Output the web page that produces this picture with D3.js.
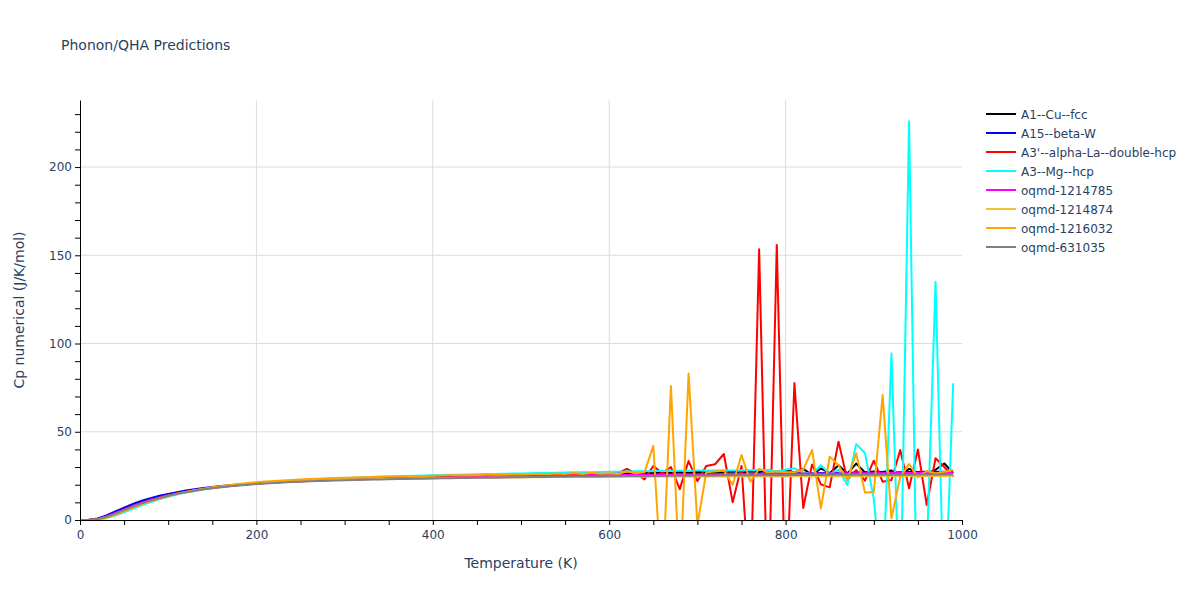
<!DOCTYPE html>
<html>
<head>
<meta charset="utf-8">
<script src="https://cdn.jsdelivr.net/npm/d3@7"></script>
<style>
  body { margin: 0; background: #fff; }
  svg { font-family: Verdana, "DejaVu Sans", sans-serif; }
</style>
</head>
<body>
<svg id="chart" width="1200" height="600"></svg>
<script>
const temps = [0,10,20,30,40,50,60,70,80,90,100,110,120,130,140,150,160,170,180,190,
200,210,220,230,240,250,260,270,280,290,300,310,320,330,340,350,360,370,380,390,
400,410,420,430,440,450,460,470,480,490,500,510,520,530,540,550,560,570,580,590,
600,610,620,630,640,650,660,670,680,690,700,710,720,730,740,750,760,770,780,790,
800,810,820,830,840,850,860,870,880,890,900,910,920,930,940,950,960,970,980,990];

const seriesNames = ["A1--Cu--fcc","A15--beta-W","A3'--alpha-La--double-hcp","A3--Mg--hcp",
  "oqmd-1214785","oqmd-1214874","oqmd-1216032","oqmd-631035"];
const seriesColors = ["#000000","#0000ff","#ff0000","#00ffff","#ff00ff","#f0c035","#ffa500","#808080"];

const cuFcc = [0,0,0.6,2.0,3.9,6.0,8.0,9.8,11.4,12.8,14.0,15.1,16.0,16.9,17.6,18.3,18.9,19.4,19.9,20.3,20.7,
21.0,21.3,21.6,21.9,22.1,22.3,22.5,22.7,22.9,23.0,23.2,23.3,23.4,23.6,23.7,23.8,23.9,24.0,24.1,24.2,
24.3,24.4,24.5,24.6,24.7,24.8,24.8,24.9,25.0,25.1,25.2,25.3,25.4,25.5,25.6,25.7,25.8,25.9,26.0,26.1,
26.3,26.6,26.4,26.8,26.5,27.0,26.6,27.2,26.8,27.4,26.9,27.3,27.0,27.5,26.8,27.6,27.2,28.0,27.4,28.2,
27.0,29.0,25.5,29.2,26.5,31.0,26.2,32.0,27.0,27.5,27.2,28.0,24.8,29.0,26.8,26.0,28.5,32.0,26.5];

const betaW = [0,0.1,0.9,2.6,4.8,7.0,9.1,10.9,12.4,13.7,14.8,15.8,16.7,17.4,18.1,18.7,19.2,19.7,20.1,20.5,20.9,
21.2,21.5,21.8,22.0,22.2,22.4,22.6,22.8,22.9,23.1,23.2,23.3,23.5,23.6,23.7,23.8,23.9,24.0,24.1,24.2,
24.3,24.4,24.4,24.5,24.6,24.7,24.7,24.8,24.9,24.9,25.0,25.1,25.1,25.2,25.2,25.3,25.3,25.4,25.4,25.5,
25.5,25.6,25.6,25.7,25.7,25.8,25.8,25.9,25.9,26.0,26.0,26.1,26.1,26.2,26.2,26.3,26.3,26.4,26.4,26.5,
26.5,26.6,26.6,26.7,26.7,26.8,26.8,26.9,26.9,27.0,27.0,27.1,27.1,27.2,27.2,27.3,27.3,27.4,27.4];

const alphaLa = [0,0,0.5,1.9,3.8,5.9,7.9,9.7,11.3,12.7,13.9,15.0,15.9,16.8,17.5,18.2,18.8,19.3,19.8,20.2,20.6,
20.9,21.2,21.5,21.8,22.0,22.2,22.4,22.6,22.8,22.9,23.1,23.2,23.3,23.5,23.6,23.7,23.8,23.9,24.0,24.1,
24.2,24.3,24.4,24.5,24.6,24.7,24.8,24.9,25.0,25.1,25.2,25.3,25.4,25.5,25.6,25.6,25.7,25.8,25.9,26.0,
26.5,29.0,26.5,23.0,30.6,26.6,30.0,17.5,33.4,22.0,30.6,31.6,37.4,10.0,30.6,-45,153.4,-60,155.8,-50,
77.6,6.8,31.5,20.2,18.5,44.4,22.7,28.3,22.3,33.6,21.7,22.7,39.7,18.0,40.0,8.5,35.0,30.0,24.5];

const mgHcp = [0,0,0.2,1.0,2.5,4.4,6.4,8.3,10.1,11.7,13.1,14.4,15.5,16.4,17.3,18.0,18.7,19.3,19.8,20.3,20.7,
21.1,21.5,21.9,22.2,22.5,22.8,23.1,23.3,23.5,23.7,23.9,24.1,24.3,24.5,24.7,24.8,25.0,25.1,25.2,25.4,
25.5,25.6,25.7,25.8,25.9,26.0,26.1,26.2,26.3,26.4,26.5,26.6,26.7,26.8,26.9,27.0,27.0,27.1,27.2,27.3,
27.4,27.5,27.6,27.6,27.7,27.8,27.8,27.9,27.9,28.0,28.0,28.0,28.1,28.1,28.2,28.2,28.3,28.3,27.5,28.5,
29.3,27.0,26.0,31.0,26.0,28.6,19.8,43.0,38.0,12.0,-40,94.4,-60,226.0,-90,-20,135.0,-60,77.5];

const oqmd1214785 = [0,0,0.6,2.0,3.9,5.9,7.9,9.7,11.3,12.7,13.9,15.0,15.9,16.8,17.5,18.2,18.8,19.3,19.8,20.2,20.6,
20.9,21.2,21.5,21.7,21.9,22.1,22.3,22.5,22.6,22.8,22.9,23.0,23.2,23.3,23.4,23.5,23.6,23.7,23.8,23.9,
24.0,24.1,24.2,24.2,24.3,24.4,24.5,24.6,24.6,24.7,24.8,24.9,24.9,25.0,25.1,25.1,25.2,25.3,25.3,25.4,
25.4,25.5,25.5,25.6,25.6,25.7,25.7,25.8,25.8,25.8,25.9,25.9,26.0,26.0,26.0,26.1,26.1,26.1,26.2,26.2,
26.2,26.3,26.3,26.3,26.4,26.4,26.4,26.5,26.5,26.5,26.5,26.6,26.6,26.6,26.7,26.7,26.7,26.7,26.8];

const oqmd1214874 = [0,0,0.3,1.3,3.0,5.0,7.0,8.9,10.6,12.1,13.5,14.7,15.7,16.6,17.4,18.1,18.7,19.3,19.8,20.2,20.6,
20.9,21.2,21.5,21.7,21.9,22.1,22.3,22.5,22.6,22.8,22.9,23.0,23.1,23.2,23.3,23.4,23.5,23.6,23.6,23.7,
23.8,23.8,23.9,23.9,24.0,24.0,24.1,24.1,24.1,24.2,24.2,24.2,24.3,24.3,24.3,24.4,24.4,24.4,24.4,24.5,
24.5,24.5,24.5,24.5,24.6,24.6,24.6,24.6,24.6,24.6,24.6,24.7,24.7,24.7,24.7,24.7,24.7,24.7,24.7,24.7,
24.8,24.8,24.8,24.8,24.8,24.8,24.8,24.8,24.8,24.8,24.9,24.9,24.9,24.9,24.9,24.9,24.9,24.9,24.9];

const oqmd1216032 = [0,0,0.3,1.4,3.1,5.1,7.1,9.0,10.7,12.2,13.6,14.8,15.9,16.8,17.7,18.5,19.2,19.8,20.4,20.9,21.4,
21.8,22.1,22.4,22.7,22.9,23.2,23.4,23.6,23.8,23.9,24.1,24.2,24.4,24.5,24.6,24.7,24.8,24.9,25.0,25.1,
25.2,25.3,25.4,25.4,25.5,25.6,25.6,25.7,25.8,25.8,25.9,26.2,25.9,26.4,26.0,26.6,26.1,26.8,26.2,26.5,
26.0,27.5,26.5,27.0,42.0,-40,76.0,-35,83.0,-3,27.0,27.5,28.0,20.0,36.8,21.7,29.0,27.0,27.5,27.0,
27.0,28.6,39.7,6.6,35.9,31.0,22.7,37.8,15.5,16.0,70.8,1.0,24.5,31.7,24.2,27.8,26.4,27.3,28.3];

const oqmd631035 = [0,0,0.5,1.8,3.6,5.6,7.6,9.4,11.0,12.4,13.7,14.8,15.8,16.6,17.4,18.0,18.6,19.1,19.6,20.0,20.4,
20.7,21.0,21.3,21.5,21.7,21.9,22.1,22.2,22.4,22.5,22.6,22.8,22.9,23.0,23.1,23.2,23.3,23.4,23.4,23.5,
23.6,23.7,23.8,23.8,23.9,24.0,24.0,24.1,24.2,24.2,24.3,24.3,24.4,24.5,24.5,24.6,24.6,24.7,24.7,24.8,
24.8,24.9,24.9,25.0,25.0,25.0,25.1,25.1,25.1,25.2,25.2,25.2,25.3,25.3,25.3,25.3,25.4,25.4,25.4,25.4,
25.5,25.5,25.5,25.5,25.6,25.6,25.6,25.6,25.6,25.7,25.7,25.7,25.7,25.7,25.8,25.8,25.8,25.8,25.8];

const seriesValues = [cuFcc, betaW, alphaLa, mgHcp, oqmd1214785, oqmd1214874, oqmd1216032, oqmd631035];

const xTickLabels = [0,200,400,600,800,1000];
const yTickLabels = [0,50,100,150,200];

(function () {
const svg = d3.select("#chart");
const pL = 80, pR = 962, pT = 100, pB = 520;
const textColor = "#2a3f5f";

const x = d3.scaleLinear().domain([0,1000]).range([pL,pR]);
const y = d3.scaleLinear().domain([0,238]).range([pB,pT]);

// grid
const grid = svg.append("g");
grid.selectAll("line.vx").data(xTickLabels.filter(d => d > 0 && d < 1000)).enter().append("line")
  .attr("x1", d => x(d)).attr("x2", d => x(d)).attr("y1", pT).attr("y2", pB)
  .attr("stroke", "#dcdcdc").attr("stroke-width", 1);
grid.selectAll("line.hy").data(yTickLabels.filter(d => d > 0)).enter().append("line")
  .attr("x1", pL).attr("x2", pR).attr("y1", d => y(d)).attr("y2", d => y(d))
  .attr("stroke", "#dcdcdc").attr("stroke-width", 1);

// clip
svg.append("defs").append("clipPath").attr("id","clip").append("rect")
  .attr("x", pL).attr("y", pT).attr("width", pR-pL).attr("height", pB-pT);

const line = d3.line().x((d,i) => x(temps[i])).y(d => y(d));
const plot = svg.append("g").attr("clip-path","url(#clip)");
seriesValues.forEach((vals, k) => {
  plot.append("path").datum(vals).attr("d", line)
    .attr("fill","none").attr("stroke", seriesColors[k]).attr("stroke-width", 2)
    .attr("stroke-linejoin","round");
});

// axes
const xAxis = d3.axisBottom(x).tickValues(d3.range(0,1001,50))
  .tickFormat(d => xTickLabels.includes(d) ? d : "").tickSize(5).tickSizeOuter(0);
const gx = svg.append("g").attr("transform", `translate(0,${pB})`).call(xAxis);
gx.attr("font-family", null);
gx.select(".domain").attr("stroke","#000");
gx.selectAll(".tick line").attr("stroke","#000");
gx.selectAll(".tick text").attr("fill", textColor).attr("font-size", 12).attr("dy","0.95em");

const yAxis = d3.axisLeft(y).tickValues(d3.range(0,231,10))
  .tickFormat(d => yTickLabels.includes(d) ? d : "").tickSize(5).tickSizeOuter(0);
const gy = svg.append("g").attr("transform", `translate(${pL},0)`).call(yAxis);
gy.attr("font-family", null);
gy.select(".domain").attr("stroke","#000");
gy.selectAll(".tick line").attr("stroke","#000");
gy.selectAll(".tick text").attr("fill", textColor).attr("font-size", 12).attr("x", -8);

// titles
svg.append("text").attr("x", 61).attr("y", 50).attr("fill", textColor)
  .attr("font-size", 14).text("Phonon/QHA Predictions");
svg.append("text").attr("x", (pL+pR)/2).attr("y", 568).attr("text-anchor","middle")
  .attr("fill", textColor).attr("font-size", 14).text("Temperature (K)");
svg.append("text").attr("transform", `translate(24,${(pT+pB)/2}) rotate(-90)`)
  .attr("text-anchor","middle").attr("fill", textColor).attr("font-size", 14)
  .text("Cp numerical (J/K/mol)");

// legend
const lg = svg.append("g").attr("transform","translate(986,114)");
seriesNames.forEach((name, k) => {
  const g = lg.append("g").attr("transform", `translate(0,${k*19})`);
  g.append("line").attr("x1",0).attr("x2",30).attr("y1",0).attr("y2",0)
    .attr("stroke", seriesColors[k]).attr("stroke-width", 2);
  g.append("text").attr("x", 35).attr("y", 4.5).attr("fill", textColor)
    .attr("font-size", 12).text(name);
});
})();
</script>
</body>
</html>
